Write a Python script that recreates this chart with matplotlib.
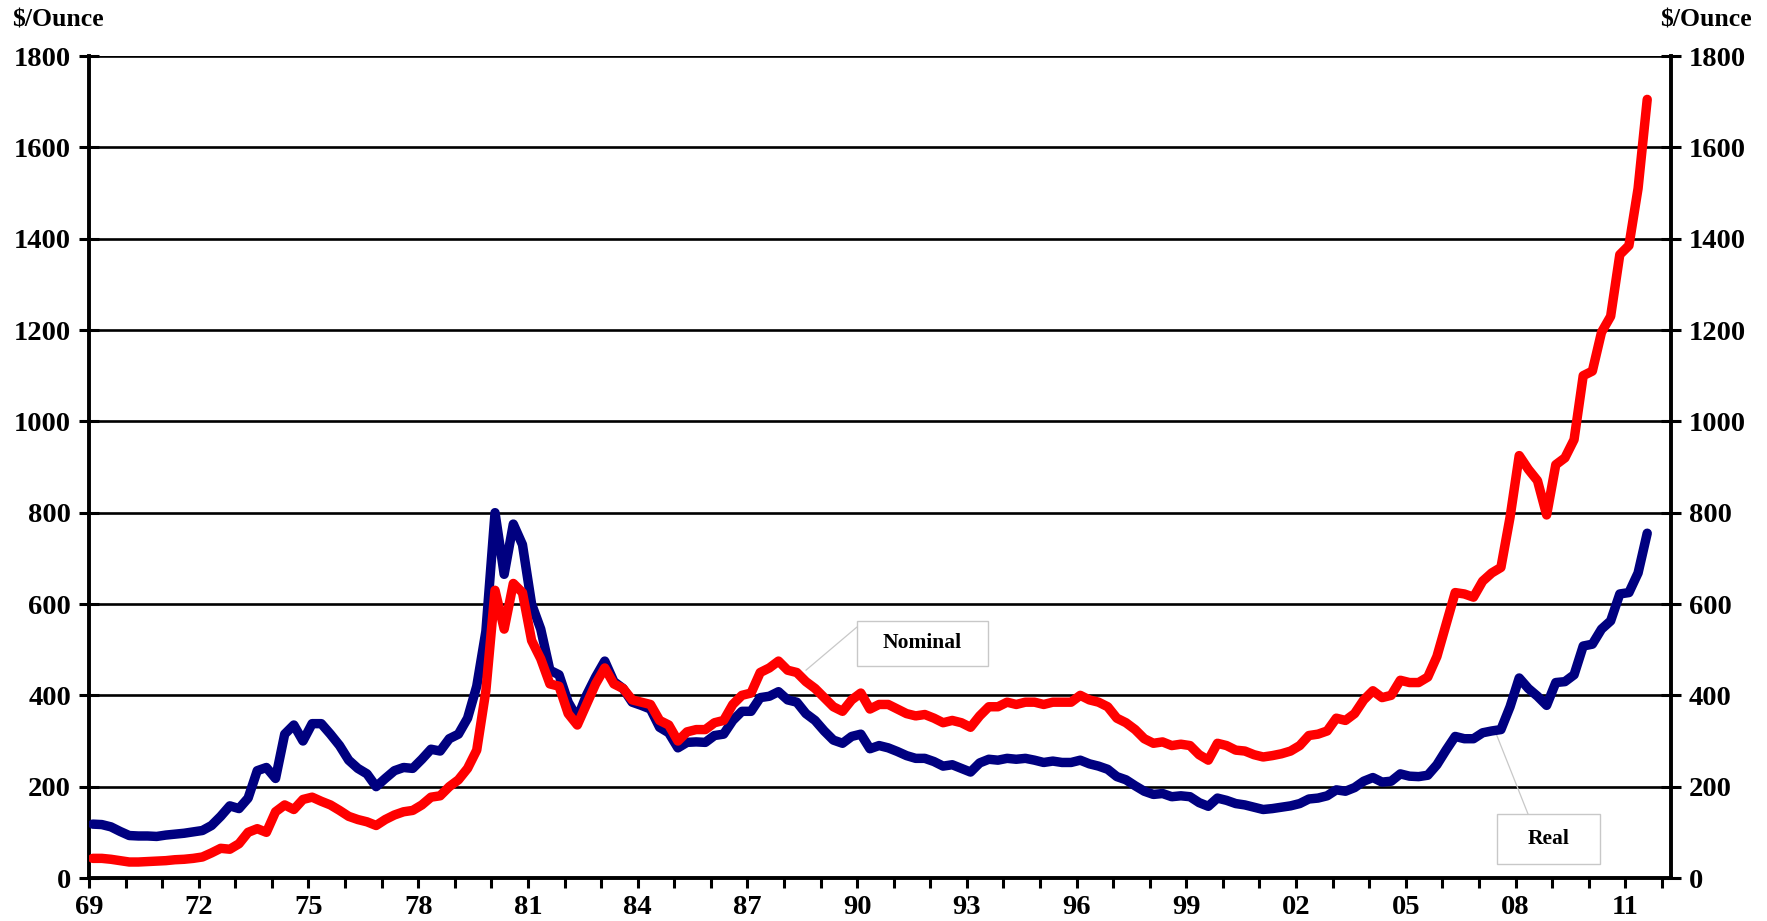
import numpy as np
import matplotlib.pyplot as plt
from matplotlib.patches import Rectangle

# quarterly gold price, $/ounce, 1969Q1 .. 2011Q3
start_year = 1969
nominal = [
    43, 43, 41, 38, 35, 35, 36, 37, 38, 40, 41, 43,            # 69-71
    46, 55, 65, 63, 75, 100, 108, 100, 145, 160, 150, 172,     # 72-74
    177, 168, 160, 148, 135, 128, 123, 115, 128, 138, 145, 148,  # 75-77
    160, 177, 180, 200, 215, 240, 280, 410, 630, 545, 645, 625,  # 78-80
    520, 480, 425, 420, 360, 335, 380, 425, 460, 425, 415, 390,  # 81-83
    385, 380, 345, 335, 300, 320, 325, 325, 340, 345, 380, 400,  # 84-86
    405, 450, 460, 475, 455, 450, 430, 415, 395, 375, 365, 390,  # 87-89
    405, 370, 380, 380, 370, 360, 355, 358, 350, 340, 345, 340,  # 90-92
    330, 355, 375, 375, 385, 380, 385, 385, 380, 385, 385, 385,  # 93-95
    400, 390, 385, 375, 350, 340, 325, 305, 295, 298, 290, 293,  # 96-98
    290, 270, 258, 295, 290, 280, 278, 270, 265, 268, 272, 278,  # 99-01
    290, 312, 315, 322, 350, 345, 360, 390, 410, 395, 400, 433,  # 02-04
    428, 428, 440, 485, 555, 625, 622, 615, 650, 668, 680, 790,  # 05-07
    925, 895, 870, 795, 905, 920, 960, 1100, 1110, 1195, 1230, 1365,  # 08-10
    1385, 1510, 1705,                                           # 11
]
real = [
    118, 117, 112, 102, 93, 92, 92, 91, 94, 96, 98, 101,
    104, 115, 135, 158, 152, 175, 235, 242, 218, 315, 335, 300,
    338, 338, 315, 290, 258, 240, 228, 200, 218, 235, 242, 240,
    260, 282, 278, 305, 315, 350, 420, 540, 800, 665, 775, 730,
    600, 545, 455, 445, 385, 350, 400, 440, 475, 430, 415, 385,
    378, 370, 330, 318, 285, 297, 298, 297, 312, 315, 345, 365,
    365, 395, 398, 408, 390, 385, 360, 345, 322, 302, 295, 310,
    315, 283, 290, 285, 277, 268, 262, 262, 255, 245, 248, 240,
    232, 252, 260, 258, 262, 260, 262, 258, 253, 256, 253, 253,
    258, 250, 245, 238, 222, 215, 202, 190, 183, 185, 178, 180,
    178, 165, 157, 175, 170, 163, 160, 155, 150, 152, 155, 158,
    163, 173, 175, 180, 193, 190, 198, 212, 220, 210, 212, 228,
    223, 222, 225, 248, 280, 310, 305, 305, 318, 322, 325, 375,
    438, 415, 398, 378, 428, 430, 445, 508, 512, 545, 563, 622,
    625, 668, 755,
]
year_ticks = list(range(1969, 2013))
label_every = 3
y_ticks = [0, 200, 400, 600, 800, 1000, 1200, 1400, 1600, 1800]

# points sit a little after the start of each quarter
x = start_year + 0.1 + np.arange(len(nominal)) / 4.0

plt.rcParams['font.family'] = ['Liberation Serif', 'DejaVu Serif']
plt.rcParams['font.weight'] = 'bold'

W, H = 1767, 921
fig = plt.figure(figsize=(W / 100, H / 100), dpi=100)
ax = fig.add_axes([89 / W, 43 / H, (1671 - 89) / W, (878 - 56) / H])

for v in y_ticks[1:]:
    ax.axhline(v, color='black', lw=1.9, zorder=1)

ax.plot(x, real, color='#000080', lw=6.8, solid_capstyle='round', solid_joinstyle='round', zorder=3)
ax.plot(x, nominal, color='#ff0000', lw=6.8, solid_capstyle='round', solid_joinstyle='round', zorder=4)

ax.set_xlim(1969, 2012.25)
ax.set_ylim(0, 1800)
ax.set_xticks(year_ticks)
ax.set_xticklabels([str(y)[-2:] if (y - start_year) % label_every == 0 else '' for y in year_ticks])
ax.set_yticks(y_ticks)
ax.tick_params(axis='x', direction='out', length=7, width=2.2, labelsize=20.5, pad=5)
ax.tick_params(axis='y', direction='inout', length=14, width=2.2, labelsize=20.5, pad=6,
               left=True, right=True, labelleft=True, labelright=True)
for s in ['left', 'right', 'bottom']:
    ax.spines[s].set_linewidth(2.8)
ax.spines['top'].set_visible(False)

fig.text(12 / W, 1 - 20 / H, '$/Ounce', ha='left', va='center', fontsize=18.5, fontweight='bold')
fig.text(1752 / W, 1 - 20 / H, '$/Ounce', ha='right', va='center', fontsize=18.5, fontweight='bold')

# labels in boxes with leader lines
def label_box(text, x0, y0, x1, y1, xy, corner):
    fig.patches.append(Rectangle((x0 / W, 1 - y1 / H), (x1 - x0) / W, (y1 - y0) / H,
                                 transform=fig.transFigure, facecolor='white',
                                 edgecolor='#c8c8c8', lw=1.0, zorder=5))
    fig.text((x0 + x1) / 2 / W, 1 - (y0 + y1) / 2 / H, text, ha='center', va='center',
             fontsize=15.5, fontweight='bold', zorder=6)
    ax.annotate('', xy=xy, xycoords='data',
                xytext=(corner[0] / W, 1 - corner[1] / H), textcoords='figure fraction',
                arrowprops=dict(arrowstyle='-', color='#c8c8c8', lw=0.9,
                                shrinkA=0, shrinkB=0), zorder=2)

label_box('Nominal', 857, 621, 988, 666, (1988.6, 455), (857, 627))
label_box('Real', 1497, 814, 1600, 864, (2007.4, 330), (1528, 814))

fig.savefig('out.png', dpi=100)
